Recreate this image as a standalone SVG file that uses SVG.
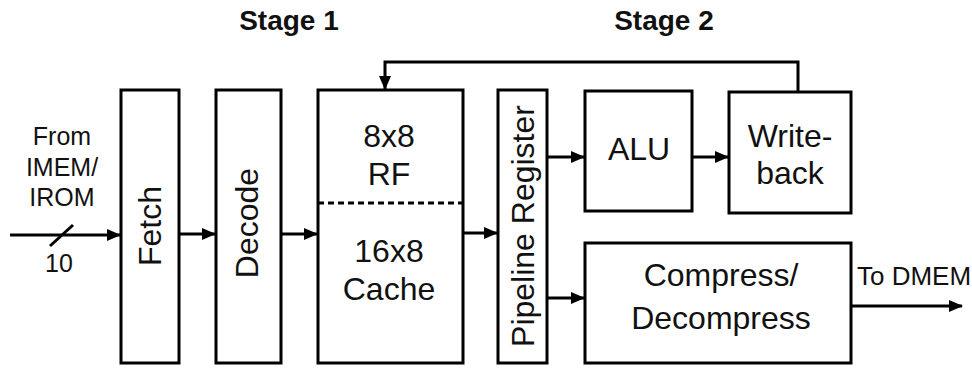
<svg xmlns="http://www.w3.org/2000/svg" width="972" height="368" viewBox="0 0 972 368">
<defs>
<marker id="ah" viewBox="0 0 14 12" refX="13" refY="6" markerWidth="14" markerHeight="12" markerUnits="userSpaceOnUse" orient="auto">
<path d="M0,0 L14,6 L0,12 Z" fill="#000"/>
</marker>
<style>
.box{fill:#fff;stroke:#000;stroke-width:3}
.t{font-family:"Liberation Sans",Arial,sans-serif;font-size:32px;fill:#111;text-anchor:middle}
.s{font-family:"Liberation Sans",Arial,sans-serif;font-size:25px;fill:#111;text-anchor:middle}
.h{font-family:"Liberation Sans",Arial,sans-serif;font-size:28px;font-weight:bold;fill:#111;text-anchor:middle}
.c{fill:none;stroke:#000;stroke-width:3}
.a{marker-end:url(#ah)}
</style>
</defs>
<rect width="972" height="368" fill="#fff"/>
<text class="h" x="289" y="30">Stage 1</text>
<text class="h" x="664" y="30">Stage 2</text>
<g id="input">
<text class="s" x="62" y="145">From</text>
<text class="s" x="62" y="176">IMEM/</text>
<text class="s" x="62" y="206">IROM</text>
<text class="s" x="59" y="272">10</text>
</g>
<g id="fetch">
<rect class="box" x="121" y="90" width="58" height="273"/>
<text class="t" transform="translate(161,226) rotate(-90)">Fetch</text>
</g>
<g id="decode">
<rect class="box" x="216" y="90" width="65" height="273"/>
<text class="t" transform="translate(258,223) rotate(-90)">Decode</text>
</g>
<g id="rf-cache">
<rect class="box" x="318" y="90" width="145" height="273"/>
<line x1="318" y1="203" x2="463" y2="203" stroke="#000" stroke-width="3" stroke-dasharray="6,4"/>
<text class="t" x="389" y="147">8x8</text>
<text class="t" x="389" y="185">RF</text>
<text class="t" x="389" y="262">16x8</text>
<text class="t" x="389" y="300">Cache</text>
</g>
<g id="pipeline">
<rect class="box" x="498" y="90" width="49" height="273"/>
<text class="t" transform="translate(534,226) rotate(-90)">Pipeline Register</text>
</g>
<g id="alu">
<rect class="box" x="585" y="91" width="107" height="120"/>
<text class="t" x="639" y="160">ALU</text>
</g>
<g id="writeback">
<rect class="box" x="729" y="92" width="122" height="121"/>
<text class="t" x="790" y="147">Write-</text>
<text class="t" x="790" y="184">back</text>
</g>
<g id="compress">
<rect class="box" x="585" y="243" width="266" height="120"/>
<text class="t" x="721" y="286">Compress/</text>
<text class="t" x="721" y="329">Decompress</text>
</g>
<g id="connectors">
<line class="c a" x1="10" y1="235" x2="120" y2="235"/>
<line x1="50" y1="246" x2="73" y2="225" stroke="#000" stroke-width="3"/>
<line class="c a" x1="179" y1="234" x2="215" y2="234"/>
<line class="c a" x1="281" y1="234" x2="317" y2="234"/>
<line class="c a" x1="463" y1="233" x2="497" y2="233"/>
<line class="c a" x1="547" y1="157" x2="584" y2="157"/>
<line class="c a" x1="547" y1="298" x2="584" y2="298"/>
<line class="c a" x1="692" y1="157" x2="728" y2="157"/>
<polyline class="c a" points="798,92 798,62 385,62 385,89"/>
<line class="c a" x1="851" y1="306" x2="962" y2="306"/>
<text class="s" x="857" y="285" style="text-anchor:start;font-size:26px">To DMEM</text>
</g>
</svg>
